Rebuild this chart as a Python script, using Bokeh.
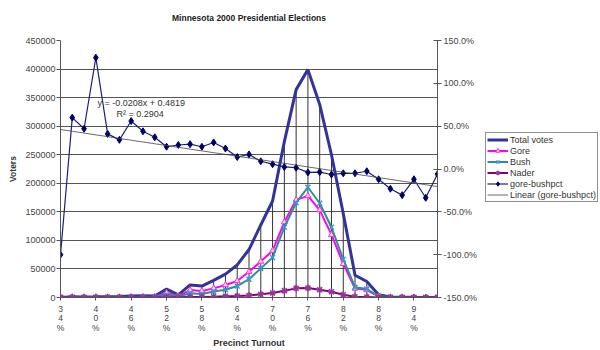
from bokeh.plotting import figure
from bokeh.layouts import row
from bokeh.models import (LinearAxis, Range1d, FixedTicker, Legend, LegendItem,
                          Label, NumeralTickFormatter)
from bokeh.embed import file_html
from bokeh.resources import INLINE

# ---- data ----
turnout = list(range(34, 99, 2))  # precinct turnout categories, %
total_votes = [200, 1500, 1000, 1200, 1500, 1800, 2500, 3000, 2500, 14700, 4700,
               22000, 20000, 30000, 41000, 57000, 84000, 127000, 169000, 273000,
               364000, 399000, 338000, 250000, 147000, 39000, 28000, 5000, 1000,
               500, 300, 200, 100]
gore = [0, 600, 400, 700, 550, 600, 1000, 1300, 1100, 8000, 2500, 13000, 11500,
        16000, 22000, 29000, 45000, 63000, 82000, 132000, 171000, 178000, 153000,
        110000, 59000, 16000, 13000, 2000, 400, 200, 150, 60, 45]
bush = [150, 350, 280, 300, 370, 420, 650, 950, 800, 5000, 1800, 7500, 6000,
        10500, 13500, 20000, 32000, 51000, 70000, 123000, 166000, 193000, 165000,
        123000, 67000, 18000, 14700, 2000, 450, 250, 150, 80, 45]
nader = [0, 50, 40, 60, 60, 80, 120, 150, 150, 600, 300, 1000, 1000, 1500, 2000,
         2500, 3500, 5500, 8000, 12000, 16000, 16500, 13500, 10000, 4800, 1200,
         800, 200, 50, 20, 10, 5, 5]
gore_bush_pct = [-1.00, 0.60, 0.47, 1.30, 0.41, 0.34, 0.56, 0.44, 0.37, 0.26, 0.28,
                 0.29, 0.26, 0.31, 0.24, 0.14, 0.17, 0.09, 0.056, 0.024, 0.015,
                 -0.04, -0.036, -0.064, -0.05, -0.05, -0.026, -0.12, -0.23,
                 -0.305, -0.12, -0.336, -0.06]
trend_slope = -0.0208
trend_intercept = 0.4819
trend_r2 = 0.2904
left_ticks = list(range(0, 450001, 50000))
right_ticks = [-1.5, -1.0, -0.5, 0.0, 0.5, 1.0, 1.5]
series_names = ["Total votes", "Gore", "Bush", "Nader", "gore-bushpct",
                "Linear (gore-bushpct)"]
chart_title = "Minnesota 2000 Presidential Elections"

x = list(range(len(turnout)))
trend = [trend_slope * (i + 1) + trend_intercept for i in x]
label_idx = list(range(0, len(turnout), 3))
x_labels = {i: "\n".join(list(str(turnout[i])) + ["%"]) for i in label_idx}
series_values = {"Total votes": total_votes, "Gore": gore, "Bush": bush,
                 "Nader": nader, "gore-bushpct": gore_bush_pct,
                 "Linear (gore-bushpct)": trend}

FONT = "Liberation Sans"

# styles
ST = {
    "Total votes": dict(line_color="#333399", line_width=3),
    "Gore": dict(line_color="#FF00FF", line_width=2),
    "Bush": dict(line_color="#2F8F8F", line_width=2),
    "Nader": dict(line_color="#800080", line_width=2),
    "gore-bushpct": dict(line_color="#1F1F7A", line_width=1.2),
    "Linear (gore-bushpct)": dict(line_color="#444444", line_width=0.8),
}
MK = {
    "Gore": dict(marker="triangle", size=6, line_color="#FF33CC",
                 fill_color="#FFCCEE", line_width=1),
    "Bush": dict(marker="x", size=7, line_color="#3399DD", line_width=1.5),
    "Nader": dict(marker="asterisk", size=7, line_color="#993399", line_width=1.5),
    "gore-bushpct": dict(marker="diamond", size=7, line_color="#000066",
                         fill_color="#000066"),
}

p = figure(width=480, height=350, output_backend="svg", toolbar_location=None,
           x_range=Range1d(0, len(turnout) - 1), y_range=Range1d(0, 450000),
           min_border_left=60, min_border_right=43, min_border_top=40,
           min_border_bottom=52, title=chart_title + "\n ")
p.outline_line_color = None
p.background_fill_color = "white"
p.border_fill_color = "white"

p.title.align = "center"
p.title.text_font = FONT
p.title.text_font_size = "8.5px"
p.title.text_font_style = "bold"
p.title.text_color = "#222222"
p.title.standoff = 16

p.extra_y_ranges = {"pct": Range1d(-1.5, 1.5)}

# grid
p.xgrid.visible = False
p.ygrid.ticker = FixedTicker(ticks=left_ticks)
p.ygrid.grid_line_color = "#555555"
p.ygrid.grid_line_width = 1

# left axis
ya = p.yaxis[0]
ya.ticker = FixedTicker(ticks=left_ticks)
ya.formatter = NumeralTickFormatter(format="0")
ya.axis_label = "Voters"
ya.axis_label_text_font = FONT
ya.axis_label_text_font_size = "8.5px"
ya.axis_label_text_font_style = "bold"
ya.axis_label_text_color = "#333333"
ya.axis_label_standoff = 4
ya.major_label_text_font = FONT
ya.major_label_text_font_size = "9px"
ya.major_label_text_color = "#444444"
ya.major_label_standoff = 1
ya.major_tick_in = 0
ya.major_tick_out = 4
ya.minor_tick_out = 0
ya.minor_tick_in = 0
ya.axis_line_color = "#555555"
ya.major_tick_line_color = "#555555"

# bottom axis
xa = p.xaxis[0]
xa.ticker = FixedTicker(ticks=label_idx)
xa.major_label_overrides = x_labels
xa.major_label_text_font = FONT
xa.major_label_text_font_size = "8.5px"
xa.major_label_text_color = "#444444"
xa.major_label_text_line_height = 0.95
xa.axis_label = "Precinct Turnout"
xa.axis_label_text_font = FONT
xa.axis_label_text_font_size = "9px"
xa.axis_label_text_font_style = "bold"
xa.axis_label_text_color = "#333333"
xa.axis_label_standoff = 2
xa.major_tick_in = 0
xa.major_tick_out = 3
xa.axis_line_color = "#555555"
xa.major_tick_line_color = "#555555"
xa.major_label_standoff = 3

# right axis
ra = LinearAxis(y_range_name="pct", ticker=FixedTicker(ticks=right_ticks),
                formatter=NumeralTickFormatter(format="0.0%"))
ra.major_label_text_font = FONT
ra.major_label_text_font_size = "9px"
ra.major_label_text_color = "#444444"
ra.major_tick_in = 4
ra.major_tick_out = 4
ra.axis_line_color = "#555555"
ra.major_tick_line_color = "#555555"
ra.major_label_standoff = 2
p.add_layout(ra, "right")

# drop lines from total votes
p.segment(x0=x, y0=[0] * len(x), x1=x, y1=total_votes, line_color="#333333",
          line_width=1)

p.line(x, total_votes, **ST["Total votes"])
p.line(x, gore, **ST["Gore"])
p.scatter(x, gore, **MK["Gore"])
p.line(x, bush, **ST["Bush"])
p.scatter(x, bush, **MK["Bush"])
p.line(x, nader, **ST["Nader"])
p.scatter(x, nader, **MK["Nader"])
p.line(x, gore_bush_pct, y_range_name="pct", **ST["gore-bushpct"])
p.scatter(x, gore_bush_pct, y_range_name="pct", **MK["gore-bushpct"])
p.line(x, trend, y_range_name="pct", **ST["Linear (gore-bushpct)"])

eq = Label(x=37, y=195, x_units="screen", y_units="screen",
           text=f"y = {trend_slope:.4f}x + {trend_intercept:.4f}",
           text_font=FONT, text_font_size="9px", text_color="#333333",
           text_baseline="middle")
r2 = Label(x=56, y=184, x_units="screen", y_units="screen",
           text=f"R\u00b2 = {trend_r2:.4f}",
           text_font=FONT, text_font_size="9px", text_color="#333333",
           text_baseline="middle")
p.add_layout(eq)
p.add_layout(r2)

# ---- legend panel (separate figure to the right; its ranges keep the
# series themselves out of view so only the legend shows) ----
lg = figure(width=120, height=350, output_backend="svg", toolbar_location=None,
            x_range=Range1d(1000, 1001), y_range=Range1d(1e9, 1e9 + 1),
            min_border_left=0, min_border_right=0, min_border_top=0,
            min_border_bottom=0)
lg.axis.visible = False
lg.grid.visible = False
lg.outline_line_color = None
lg.border_fill_color = "white"

items = []
for name in series_names:
    vals = series_values[name]
    rs = [lg.line(x, vals, **ST[name])]
    if name in MK:
        rs.append(lg.scatter(x, vals, **MK[name]))
    items.append(LegendItem(label=name, renderers=rs))

legend = Legend(items=items, location=(5, 95))
legend.margin = 0
legend.padding = 1
legend.spacing = 0
legend.glyph_width = 21
legend.glyph_height = 11
legend.label_height = 11
legend.label_standoff = 2
legend.label_text_font = FONT
legend.label_text_font_size = "9px"
legend.label_text_color = "#333333"
legend.border_line_color = "#222222"
legend.border_line_width = 1
legend.background_fill_alpha = 1.0
lg.add_layout(legend, "center")

layout = row(p, lg)
open("out.html", "w").write(file_html(layout, INLINE))
